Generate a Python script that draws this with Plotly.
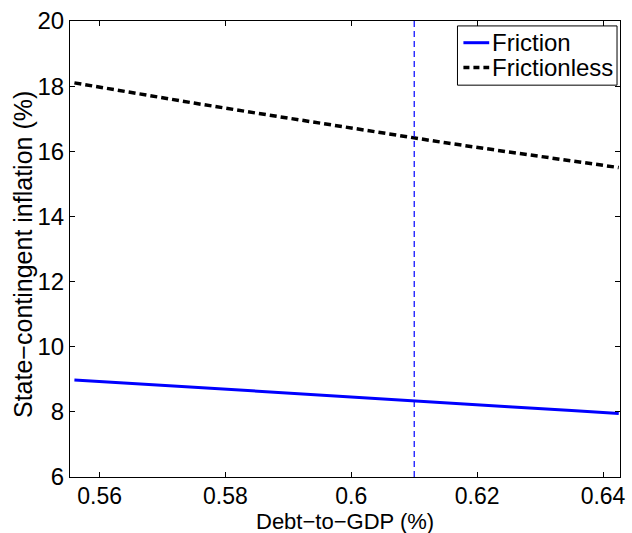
import plotly.graph_objects as go

# Debt-to-GDP grid and state-contingent inflation (%) for each model
debt_to_gdp = [0.556, 0.565, 0.575, 0.585, 0.595, 0.605, 0.615, 0.625, 0.635, 0.6425]
inflation_friction = [8.98, 8.87, 8.75, 8.63, 8.51, 8.39, 8.28, 8.16, 8.04, 7.95]
inflation_frictionless = [18.10, 17.80, 17.48, 17.17, 16.86, 16.55, 16.26, 15.98, 15.71, 15.50]

# Reference debt level marked with a vertical line
debt_marker = 0.61
y_range = [6, 20]
x_range = [0.5553, 0.6427]

x_ticks = [0.56, 0.58, 0.60, 0.62, 0.64]
x_tick_text = ["0.56", "0.58", "0.6", "0.62", "0.64"]
y_ticks = [6, 8, 10, 12, 14, 16, 18, 20]

series_names = ["Friction", "Frictionless"]
series_colors = ["rgb(0,0,255)", "black"]
series_widths = [3, 3.5]
series_dash = ["solid", "7px,4px"]
legend_dash = ["solid", "6px,4px"]

x_title = "Debt\u2212to\u2212GDP (%)"
y_title = "State\u2212contingent inflation (%)"

font_family = "Liberation Sans, Arial, Helvetica, sans-serif"
font_size = 24

fig = go.Figure()

for name, ys, color, width, dash in zip(
        series_names, [inflation_friction, inflation_frictionless],
        series_colors, series_widths, series_dash):
    fig.add_trace(go.Scatter(
        x=debt_to_gdp, y=ys, mode="lines", name=name, showlegend=False,
        line=dict(color=color, width=width, dash=dash),
    ))

fig.add_trace(go.Scatter(
    x=[debt_marker, debt_marker], y=y_range, mode="lines", showlegend=False,
    line=dict(color="rgb(0,0,255)", width=1.2, dash="6px,4px"),
    hoverinfo="skip",
))

axis_common = dict(
    showgrid=False, zeroline=False,
    showline=True, linecolor="black", linewidth=1,
    mirror="ticks", ticks="inside", ticklen=5, tickcolor="black", tickwidth=1,
)

fig.update_xaxes(range=x_range, tickvals=x_ticks, ticktext=x_tick_text,
                 tickfont=dict(family=font_family, size=23, color="black"),
                 ticklabelstandoff=-2,
                 **axis_common)
fig.update_yaxes(range=y_range, tickvals=y_ticks,
                 tickfont=dict(family=font_family, size=font_size, color="black"),
                 **axis_common)

# Legend box in the upper-right corner of the axes (paper coordinates)
box_x0, box_x1 = 0.7045, 0.9946
box_y0, box_y1 = 0.8593, 0.9892
sample_x0, sample_x1 = 0.7153, 0.7622
text_x = 0.7640
row_y = [0.9524, 0.8983]

shapes = [dict(type="rect", xref="paper", yref="paper",
               x0=box_x0, x1=box_x1, y0=box_y0, y1=box_y1,
               line=dict(color="black", width=1), fillcolor="white", layer="above")]
annotations = []
for name, color, width, dash, yy in zip(series_names, series_colors,
                                        series_widths, legend_dash, row_y):
    shapes.append(dict(type="line", xref="paper", yref="paper",
                       x0=sample_x0, x1=sample_x1, y0=yy, y1=yy,
                       line=dict(color=color, width=width, dash=dash), layer="above"))
    annotations.append(dict(text=name, xref="paper", yref="paper", x=text_x, y=yy,
                            xanchor="left", yanchor="middle", showarrow=False,
                            font=dict(family=font_family, size=font_size, color="black")))

# Axis titles
annotations.append(dict(text=x_title, xref="paper", yref="paper", x=0.5, y=0,
                        xanchor="center", yanchor="middle", yshift=-44,
                        showarrow=False, borderpad=0,
                        font=dict(family=font_family, size=22, color="black")))
annotations.append(dict(text=y_title, xref="paper", yref="paper", x=0, y=0.5,
                        xanchor="center", yanchor="middle", xshift=-47, yshift=-6,
                        textangle=-90, showarrow=False,
                        font=dict(family=font_family, size=25, color="black")))

fig.update_layout(
    width=632, height=533,
    margin=dict(l=70, r=7, t=15, b=56),
    paper_bgcolor="white", plot_bgcolor="white",
    font=dict(family=font_family, size=font_size, color="black"),
    showlegend=False,
    shapes=shapes,
    annotations=annotations,
)

fig.write_html("out.html")
